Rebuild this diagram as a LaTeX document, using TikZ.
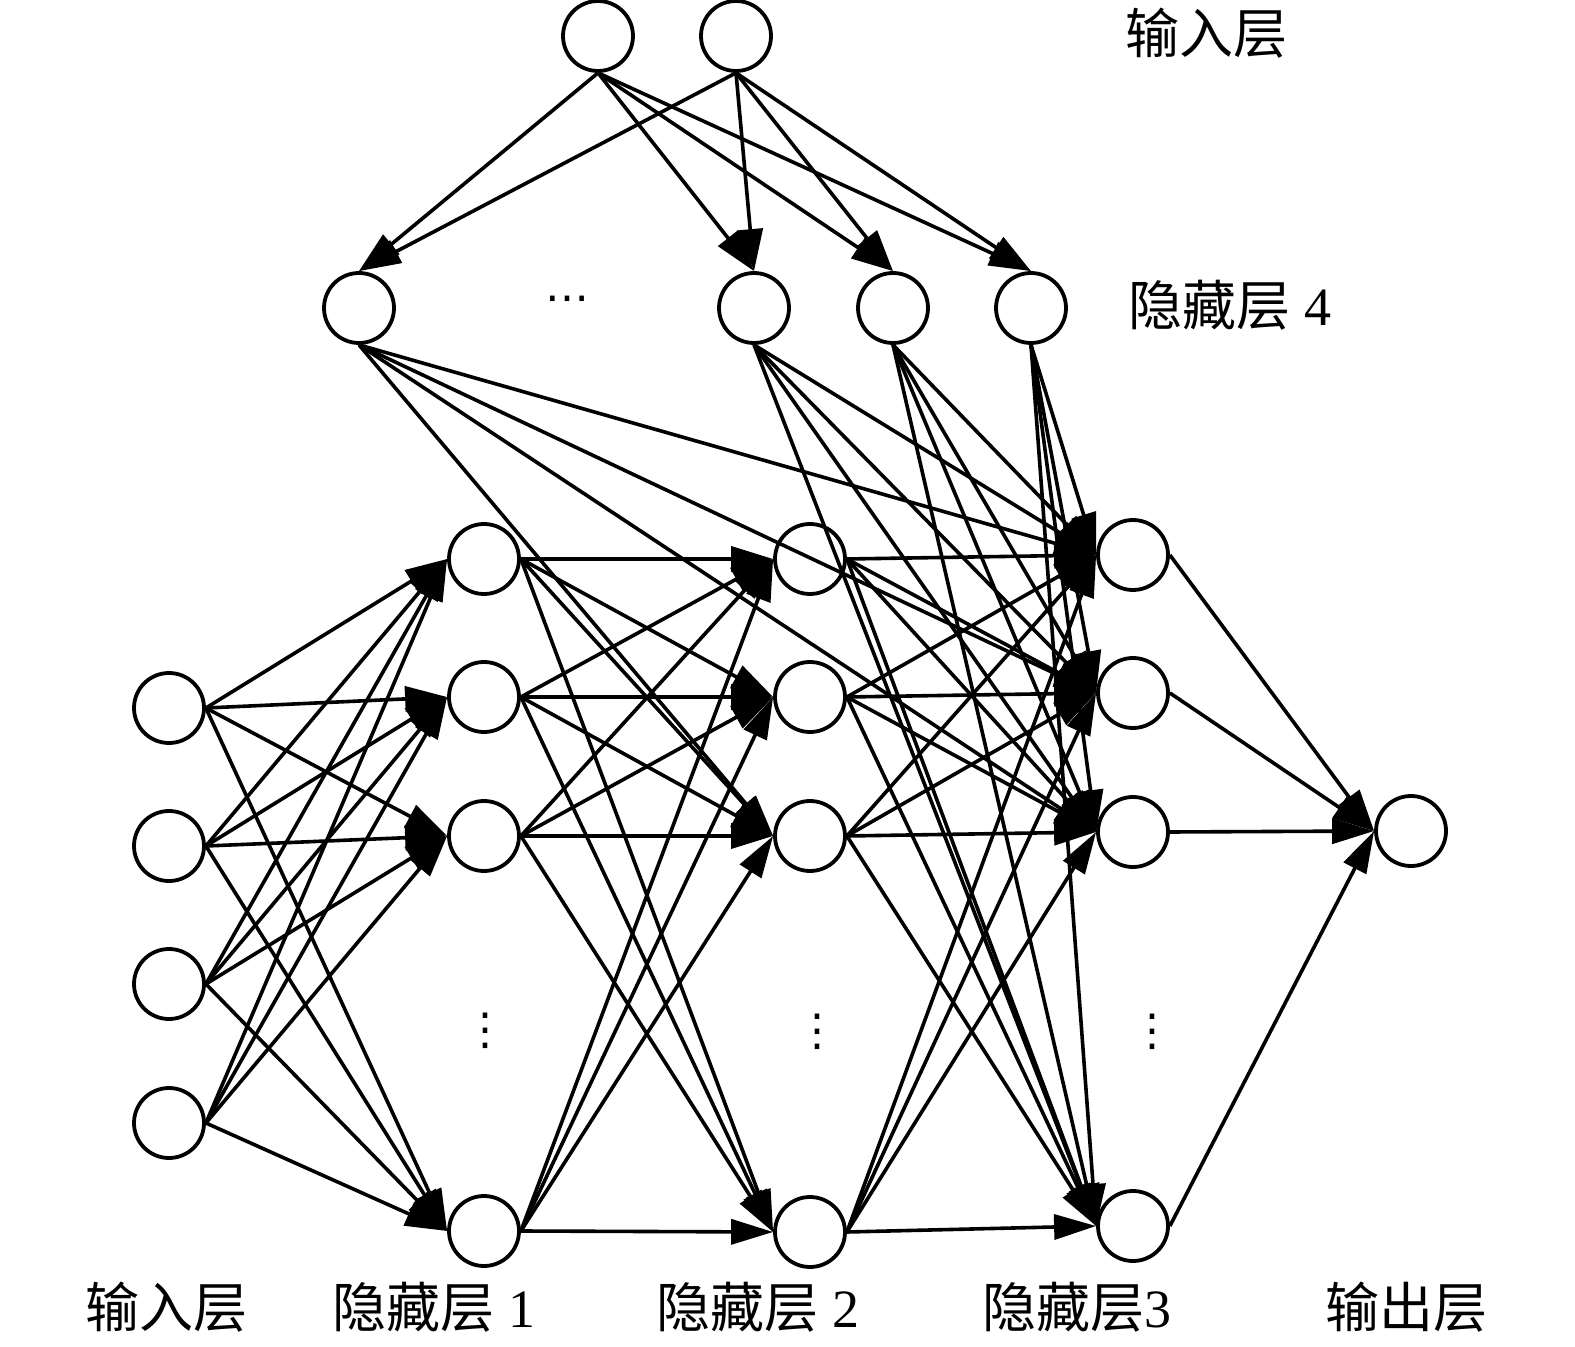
\documentclass[tikz,border=0pt]{standalone}
\usepackage{fontspec}
\setmainfont{Liberation Serif}
\newfontfamily\cjk{Noto Sans CJK SC}
\newfontfamily\dejavu{DejaVu Sans}
\usetikzlibrary{arrows.meta}
\begin{document}
\begin{tikzpicture}[x=0.5pt,y=-0.5pt,
  neuron/.style={circle,draw,line width=1.9pt,minimum size=35pt,inner sep=0pt},
  conn/.style={line width=1.8pt,-{Triangle[length=21pt,width=12.5pt]}},
  lab/.style={font=\fontsize{27}{30}\selectfont,inner sep=0pt},
  vdotsn/.style={inner sep=0pt,font=\dejavu\fontsize{22}{26}\selectfont}]
\useasboundingbox (0,0) rectangle (1575,1347);
% top input layer
\node[neuron] (t1) at (598,36) {};
\node[neuron] (t2) at (736,36) {};
% hidden layer 4
\node[neuron] (h41) at (359,308) {};
\node[neuron] (h42) at (754,308) {};
\node[neuron] (h43) at (893,308) {};
\node[neuron] (h44) at (1031,308) {};
\node[vdotsn] (hd) at (567,304) {⋯};
% input layer
\node[neuron] (i1) at (169,708) {};
\node[neuron] (i2) at (169,846) {};
\node[neuron] (i3) at (169,984) {};
\node[neuron] (i4) at (169,1123) {};
% hidden layer 1
\node[neuron] (a1) at (484,559) {};
\node[neuron] (a2) at (484,697) {};
\node[neuron] (a3) at (484,836) {};
\node[neuron] (a4) at (484,1231) {};
% hidden layer 2
\node[neuron] (b1) at (810,559) {};
\node[neuron] (b2) at (810,697) {};
\node[neuron] (b3) at (810,836) {};
\node[neuron] (b4) at (810,1232) {};
% hidden layer 3
\node[neuron] (c1) at (1133,555) {};
\node[neuron] (c2) at (1133,693) {};
\node[neuron] (c3) at (1133,832) {};
\node[neuron] (c4) at (1133,1226) {};
% output
\node[neuron] (o) at (1411,831) {};
% vertical dots
\node[vdotsn] (d1) at (485,1031) {⋮};
\node[vdotsn] (d2) at (817,1032) {⋮};
\node[vdotsn] (d3) at (1152,1032) {⋮};
% labels
\node[lab] (l1) at (1206,33) {\cjk 输入层};
\node[lab] (l2) at (1230,305) {{\cjk 隐藏层} 4};
\node[lab] (l3) at (166,1307) {\cjk 输入层};
\node[lab] (l4) at (434,1307) {{\cjk 隐藏层} 1};
\node[lab] (l5) at (758,1307) {{\cjk 隐藏层} 2};
\node[lab] (l6) at (1077,1307) {{\cjk 隐藏层}3};
\node[lab] (l7) at (1406,1307) {\cjk 输出层};
% connections
\foreach \s in {t1,t2}
  \foreach \t in {h41,h42,h43,h44}
    \draw[conn] (\s.south) -- (\t.north);
\foreach \t in {c1,c2,c3}
  \draw[conn] (h41.south) -- (\t.west);
\draw[conn] (h41.south) -- (b3.west);
\foreach \s in {h42,h43,h44}
  \foreach \t in {c1,c2,c3,c4}
    \draw[conn] (\s.south) -- (\t.west);
\foreach \s in {i1,i2,i3,i4}
  \foreach \t in {a1,a2,a3,a4}
    \draw[conn] (\s.east) -- (\t.west);
\foreach \s in {a1,a2,a3,a4}
  \foreach \t in {b1,b2,b3,b4}
    \draw[conn] (\s.east) -- (\t.west);
\foreach \s in {b1,b2,b3,b4}
  \foreach \t in {c1,c2,c3,c4}
    \draw[conn] (\s.east) -- (\t.west);
\foreach \s in {c1,c2,c3,c4}
  \draw[conn] (\s.east) -- (o.west);
\end{tikzpicture}
\end{document}
